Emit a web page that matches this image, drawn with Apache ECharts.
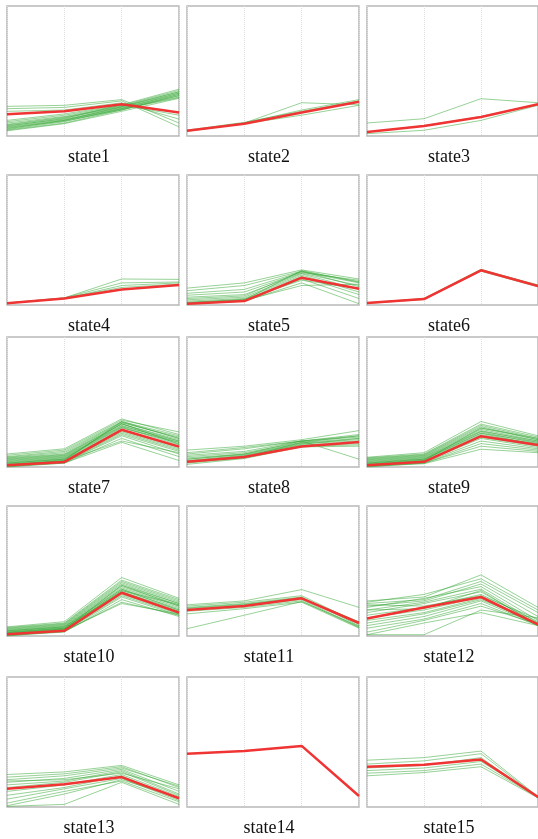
<!DOCTYPE html>
<html>
<head>
<meta charset="utf-8">
<script src="https://cdn.jsdelivr.net/npm/echarts@6/dist/echarts.min.js"></script>
<style>
  html, body { margin: 0; padding: 0; background: #fff; }
  #chart { width: 538px; height: 839px; }
</style>
</head>
<body>
<div id="chart"></div>
<script>
// x positions (4 steps per profile)
var steps = ['1', '2', '3', '4']
var stateNames = ['state1', 'state2', 'state3', 'state4', 'state5', 'state6', 'state7', 'state8',
  'state9', 'state10', 'state11', 'state12', 'state13', 'state14', 'state15']

// red mean profile of each state
var means = [
  [0.167, 0.19, 0.244, 0.18],
  [0.04, 0.095, 0.18, 0.264],
  [0.03, 0.077, 0.146, 0.244],
  [0.013, 0.05, 0.12, 0.154],
  [0.01, 0.03, 0.21, 0.125],
  [0.015, 0.046, 0.267, 0.145],
  [0.013, 0.039, 0.286, 0.157],
  [0.04, 0.077, 0.157, 0.193],
  [0.013, 0.04, 0.237, 0.17],
  [0.013, 0.04, 0.333, 0.18],
  [0.2, 0.23, 0.29, 0.1],
  [0.135, 0.22, 0.3, 0.09],
  [0.14, 0.175, 0.23, 0.067],
  [0.41, 0.43, 0.47, 0.085],
  [0.31, 0.325, 0.365, 0.077]
]

// green member profiles
var members1 = [
  [0.228, 0.236, 0.28, 0.10], [0.21, 0.22, 0.27, 0.07], [0.19, 0.2, 0.255, 0.13],
  [0.12, 0.17, 0.24, 0.36], [0.11, 0.16, 0.235, 0.35], [0.10, 0.15, 0.23, 0.34],
  [0.09, 0.145, 0.225, 0.33], [0.085, 0.14, 0.22, 0.32], [0.08, 0.13, 0.215, 0.31],
  [0.07, 0.125, 0.21, 0.30], [0.065, 0.12, 0.205, 0.295], [0.06, 0.115, 0.20, 0.31],
  [0.05, 0.11, 0.21, 0.33], [0.045, 0.10, 0.2, 0.32], [0.04, 0.095, 0.19, 0.29],
  [0.055, 0.12, 0.225, 0.34], [0.075, 0.135, 0.24, 0.16]
]
var members2 = [
  [0.04, 0.1, 0.256, 0.24], [0.04, 0.1, 0.2, 0.28], [0.035, 0.095, 0.16, 0.236], [0.045, 0.105, 0.19, 0.27]
]
var members3 = [
  [0.1, 0.133, 0.287, 0.256], [0.018, 0.044, 0.12, 0.236], [0.03, 0.08, 0.15, 0.245]
]
var members4 = [
  [0.015, 0.055, 0.2, 0.197], [0.015, 0.055, 0.17, 0.177], [0.013, 0.05, 0.15, 0.17], [0.013, 0.052, 0.135, 0.16]
]
var members5 = [
  [0.13, 0.17, 0.27, 0.2], [0.11, 0.15, 0.26, 0.18], [0.09, 0.12, 0.255, 0.17], [0.075, 0.1, 0.25, 0.19],
  [0.06, 0.08, 0.245, 0.15], [0.05, 0.07, 0.26, 0.14], [0.04, 0.06, 0.24, 0.12], [0.03, 0.05, 0.23, 0.10],
  [0.02, 0.04, 0.22, 0.08], [0.01, 0.03, 0.2, 0.05], [0.005, 0.03, 0.17, 0.01], [0.01, 0.035, 0.15, 0.16],
  [0.02, 0.045, 0.19, 0.13], [0.015, 0.04, 0.265, 0.175]
]
var members6 = [
  [0.018, 0.05, 0.275, 0.15], [0.012, 0.042, 0.26, 0.14], [0.015, 0.048, 0.27, 0.155]
]
var members7 = [
  [0.1, 0.14, 0.37, 0.25], [0.09, 0.13, 0.36, 0.27], [0.08, 0.12, 0.35, 0.24], [0.075, 0.11, 0.345, 0.22],
  [0.07, 0.1, 0.34, 0.23], [0.065, 0.095, 0.33, 0.2], [0.06, 0.09, 0.33, 0.21], [0.055, 0.085, 0.32, 0.19],
  [0.05, 0.08, 0.315, 0.2], [0.045, 0.075, 0.31, 0.18], [0.04, 0.07, 0.305, 0.17], [0.035, 0.065, 0.3, 0.19],
  [0.03, 0.06, 0.29, 0.16], [0.025, 0.055, 0.28, 0.15], [0.02, 0.05, 0.27, 0.14], [0.015, 0.045, 0.26, 0.13],
  [0.01, 0.04, 0.25, 0.12], [0.005, 0.035, 0.24, 0.1], [0.0, 0.03, 0.22, 0.08], [0.005, 0.03, 0.19, 0.05],
  [0.02, 0.045, 0.2, 0.11], [0.03, 0.06, 0.335, 0.175], [0.015, 0.05, 0.35, 0.22]
]
var members8 = [
  [0.13, 0.16, 0.21, 0.28], [0.11, 0.15, 0.2, 0.25], [0.1, 0.14, 0.2, 0.24], [0.09, 0.12, 0.2, 0.23],
  [0.08, 0.11, 0.19, 0.22], [0.07, 0.1, 0.185, 0.21], [0.06, 0.095, 0.18, 0.2], [0.05, 0.09, 0.17, 0.19],
  [0.04, 0.08, 0.165, 0.18], [0.03, 0.07, 0.16, 0.17], [0.02, 0.065, 0.155, 0.16], [0.06, 0.1, 0.2, 0.06],
  [0.045, 0.085, 0.175, 0.22], [0.035, 0.075, 0.19, 0.24]
]
var members9 = [
  [0.075, 0.11, 0.35, 0.24], [0.07, 0.1, 0.33, 0.23], [0.065, 0.095, 0.32, 0.22], [0.06, 0.09, 0.31, 0.21],
  [0.055, 0.085, 0.3, 0.22], [0.05, 0.08, 0.29, 0.2], [0.045, 0.075, 0.28, 0.19], [0.04, 0.07, 0.275, 0.2],
  [0.035, 0.065, 0.27, 0.18], [0.03, 0.06, 0.26, 0.19], [0.025, 0.055, 0.25, 0.17], [0.02, 0.05, 0.24, 0.18],
  [0.015, 0.045, 0.23, 0.16], [0.01, 0.04, 0.22, 0.15], [0.005, 0.035, 0.2, 0.14], [0.0, 0.03, 0.18, 0.13],
  [0.01, 0.03, 0.16, 0.12], [0.005, 0.025, 0.137, 0.11], [0.02, 0.05, 0.3, 0.21], [0.03, 0.06, 0.26, 0.17]
]
var members10 = [
  [0.07, 0.11, 0.45, 0.29], [0.065, 0.1, 0.43, 0.28], [0.06, 0.095, 0.42, 0.27], [0.055, 0.09, 0.41, 0.26],
  [0.05, 0.085, 0.4, 0.25], [0.045, 0.08, 0.39, 0.25], [0.04, 0.075, 0.38, 0.24], [0.035, 0.07, 0.37, 0.23],
  [0.03, 0.065, 0.36, 0.22], [0.025, 0.06, 0.35, 0.21], [0.02, 0.055, 0.34, 0.2], [0.015, 0.05, 0.33, 0.19],
  [0.01, 0.045, 0.32, 0.18], [0.005, 0.04, 0.31, 0.17], [0.0, 0.035, 0.3, 0.16], [0.005, 0.03, 0.28, 0.15],
  [0.01, 0.035, 0.26, 0.16], [0.02, 0.04, 0.25, 0.17], [0.03, 0.06, 0.34, 0.19], [0.04, 0.07, 0.36, 0.2],
  [0.015, 0.05, 0.39, 0.23], [0.025, 0.055, 0.35, 0.24]
]
var members11 = [
  [0.24, 0.27, 0.357, 0.22], [0.23, 0.26, 0.31, 0.1], [0.22, 0.25, 0.3, 0.09], [0.21, 0.24, 0.295, 0.08],
  [0.2, 0.23, 0.28, 0.07], [0.19, 0.22, 0.27, 0.065], [0.17, 0.21, 0.26, 0.06], [0.056, 0.16, 0.265, 0.075],
  [0.215, 0.245, 0.29, 0.11]
]
var members12 = [
  [0.27, 0.3, 0.47, 0.22], [0.26, 0.32, 0.44, 0.2], [0.25, 0.28, 0.42, 0.18], [0.23, 0.27, 0.4, 0.15],
  [0.22, 0.29, 0.38, 0.12], [0.2, 0.26, 0.36, 0.1], [0.18, 0.25, 0.34, 0.09], [0.16, 0.22, 0.32, 0.11],
  [0.14, 0.2, 0.3, 0.08], [0.12, 0.18, 0.29, 0.09], [0.1, 0.17, 0.28, 0.1], [0.08, 0.15, 0.27, 0.085],
  [0.06, 0.13, 0.25, 0.08], [0.03, 0.12, 0.23, 0.09], [0.01, 0.1, 0.18, 0.08], [0.01, 0.01, 0.2, 0.14],
  [0.2, 0.21, 0.35, 0.08], [0.24, 0.23, 0.31, 0.13]
]
var members13 = [
  [0.25, 0.27, 0.32, 0.17], [0.23, 0.255, 0.31, 0.15], [0.21, 0.24, 0.3, 0.16], [0.19, 0.22, 0.29, 0.12],
  [0.17, 0.2, 0.28, 0.1], [0.15, 0.19, 0.27, 0.09], [0.12, 0.17, 0.25, 0.08], [0.09, 0.15, 0.24, 0.06],
  [0.06, 0.14, 0.22, 0.05], [0.03, 0.12, 0.2, 0.04], [0.005, 0.02, 0.19, 0.02], [0.01, 0.1, 0.21, 0.07],
  [0.2, 0.21, 0.26, 0.14]
]
var members14 = []
var members15 = [
  [0.36, 0.38, 0.43, 0.08], [0.33, 0.355, 0.41, 0.075], [0.3, 0.32, 0.38, 0.07],
  [0.28, 0.3, 0.35, 0.08], [0.26, 0.28, 0.33, 0.075], [0.24, 0.265, 0.31, 0.07]
]
var members = [members1, members2, members3, members4, members5, members6, members7, members8,
  members9, members10, members11, members12, members13, members14, members15]

// panel layout
var colLeft = [7, 187, 367]
var rowTop = [6, 175, 337, 506, 677]
var panelW = 172
var panelH = 130

var grid = [], xAxis = [], yAxis = [], series = [], title = []
stateNames.forEach(function (name, i) {
  var left = colLeft[i % 3]
  var top = rowTop[Math.floor(i / 3)]
  grid.push({
    left: left,
    top: top,
    width: panelW,
    height: panelH,
    show: true,
    borderColor: '#b8b8b8',
    borderWidth: 1.5,
    backgroundColor: '#fff'
  })
  xAxis.push({
    type: 'category',
    gridIndex: i,
    data: steps,
    boundaryGap: false,
    axisLine: { show: false },
    axisTick: { show: false },
    axisLabel: { show: false },
    splitLine: {
      show: true,
      lineStyle: { color: '#dedede', type: 'dotted', width: 1 }
    }
  })
  yAxis.push({
    type: 'value',
    gridIndex: i,
    min: 0,
    max: 1,
    axisLine: { show: false },
    axisTick: { show: false },
    axisLabel: { show: false },
    splitLine: { show: false }
  })
  members[i].forEach(function (m) {
    series.push({
      type: 'line',
      xAxisIndex: i,
      yAxisIndex: i,
      data: m,
      symbol: 'none',
      silent: true,
      z: 2,
      lineStyle: { color: 'rgba(50,165,50,0.5)', width: 1 }
    })
  })
  series.push({
    type: 'line',
    xAxisIndex: i,
    yAxisIndex: i,
    data: means[i],
    symbol: 'none',
    silent: true,
    z: 3,
    lineStyle: { color: '#f03434', width: 2.5 }
  })
  title.push({
    text: name,
    left: left + 82,
    top: top + panelH + 12,
    textAlign: 'center',
    padding: 0,
    textStyle: {
      fontFamily: 'Liberation Serif',
      fontWeight: 'normal',
      fontSize: 18,
      color: '#111'
    }
  })
})

var option = {
  animation: false,
  backgroundColor: '#fff',
  title: title,
  grid: grid,
  xAxis: xAxis,
  yAxis: yAxis,
  series: series
}

var chart = echarts.init(document.getElementById('chart'))
chart.setOption(option)
</script>
</body>
</html>
